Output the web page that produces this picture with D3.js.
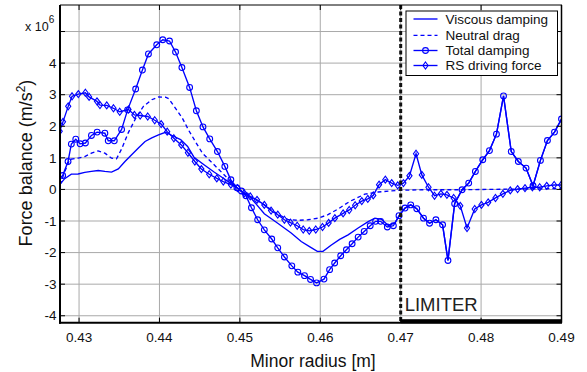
<!DOCTYPE html>
<html>
<head>
<meta charset="utf-8">
<script src="https://cdn.jsdelivr.net/npm/d3@7"></script>
<style>
  html, body { margin: 0; padding: 0; background: #fff; }
  text { font-family: "Liberation Sans", Arial, sans-serif; }
</style>
</head>
<body>
<div id="chart"></div>
<script>

// Minor radius [m] and force values (x 10^6 m/s^2).
const rTotal = [0.42725, 0.42796, 0.42863, 0.42904, 0.42959, 0.43013, 0.43079, 0.43154, 0.43225, 0.43321, 0.43363,
    0.43438, 0.43529, 0.43604, 0.43704, 0.43788, 0.43863, 0.43966, 0.44041, 0.44125, 0.44200, 0.44279,
    0.44375, 0.44459, 0.44541, 0.44625, 0.44721, 0.44813, 0.44888, 0.44963, 0.45019, 0.45075, 0.45144,
    0.45221, 0.45304, 0.45396, 0.45471, 0.45554, 0.45646, 0.45721, 0.45804, 0.45879, 0.45954, 0.46046,
    0.46116, 0.46179, 0.46254, 0.46325, 0.46396, 0.46471, 0.46546, 0.46621, 0.46688, 0.46750, 0.46834,
    0.46909, 0.46979, 0.47054, 0.47125, 0.47200, 0.47284, 0.47359, 0.47438, 0.47521, 0.47588, 0.47671,
    0.47763, 0.47846, 0.47929, 0.48021, 0.48104, 0.48191, 0.48279, 0.48375, 0.48463, 0.48559, 0.48646,
    0.48738, 0.48825, 0.48913, 0.49000, 0.49088];
const totalDamping = [0.25, 0.44, 0.885, 1.435, 1.59, 1.445, 1.47, 1.71, 1.815, 1.78, 1.54,
    1.54, 1.90, 2.52, 3.18, 3.78, 4.29, 4.58, 4.74, 4.70, 4.35, 3.86,
    3.23, 2.49, 1.98, 1.60, 1.20, 0.73, 0.305, 0.05, -0.05, -0.2, -0.58,
    -0.96, -1.28, -1.57, -1.85, -2.14, -2.42, -2.62, -2.73, -2.85, -2.96, -2.84,
    -2.54, -2.33, -2.10, -1.91, -1.72, -1.51, -1.33, -1.15, -1.01, -1.01, -1.19,
    -1.15, -0.83, -0.59, -0.49, -0.61, -0.91, -1.07, -0.96, -1.12, -2.25, -0.45,
    -0.01, 0.2, 0.57, 0.94, 1.23, 1.75, 2.96, 1.20, 0.885, 0.675, 0.115,
    0.92, 1.55, 1.815, 2.23, 2.65];

const rRS = [0.42759, 0.42800, 0.42865, 0.42913, 0.42991, 0.43079, 0.43125, 0.43223, 0.43260, 0.43344, 0.43428,
    0.43506, 0.43615, 0.43688, 0.43760, 0.43854, 0.43941, 0.44021, 0.44096, 0.44179, 0.44271, 0.44354,
    0.44440, 0.44521, 0.44619, 0.44713, 0.44794, 0.44888, 0.44971, 0.45054, 0.45129, 0.45213, 0.45304,
    0.45388, 0.45471, 0.45554, 0.45629, 0.45713, 0.45788, 0.45863, 0.45944, 0.46028, 0.46104, 0.46181,
    0.46284, 0.46360, 0.46434, 0.46516, 0.46591, 0.46659, 0.46731, 0.46809, 0.46888, 0.46963, 0.47034,
    0.47109, 0.47191, 0.47263, 0.47346, 0.47421, 0.47500, 0.47575, 0.47659, 0.47741, 0.47825, 0.47921,
    0.48004, 0.48088, 0.48179, 0.48271, 0.48363, 0.48454, 0.48546, 0.48638, 0.48729, 0.48816, 0.48909,
    0.48996];
const rsForce = [1.84, 2.14, 2.63, 2.95, 3.02, 3.06, 2.93, 2.79, 2.67, 2.66, 2.57,
    2.46, 2.53, 2.36, 2.34, 2.31, 2.19, 2.07, 1.83, 1.62, 1.41, 1.16,
    0.885, 0.645, 0.48, 0.35, 0.25, 0.15, 0.04, -0.12, -0.22, -0.33, -0.49,
    -0.67, -0.80, -0.96, -1.05, -1.15, -1.27, -1.31, -1.27, -1.19, -1.06, -0.91,
    -0.76, -0.65, -0.50, -0.37, -0.30, -0.19, 0.15, 0.31, 0.2, 0.13, 0.2,
    0.43, 1.13, 0.46, 0.07, -0.2, -0.14, -0.17, -0.27, -0.52, -1.22, -0.62,
    -0.49, -0.41, -0.27, -0.14, -0.03, 0.01, 0.04, 0.07, 0.07, 0.115, 0.14,
    0.14];

const rViscous = [0.42713, 0.42738, 0.42821, 0.42904, 0.42988, 0.43071, 0.43154, 0.43238, 0.43321, 0.43404, 0.43488,
    0.43571, 0.43654, 0.43738, 0.43821, 0.43904, 0.43988, 0.44075, 0.44163, 0.44263, 0.44350, 0.44429,
    0.44554, 0.44679, 0.44804, 0.44929, 0.45013, 0.45138, 0.45304, 0.45471, 0.45638, 0.45763, 0.45866,
    0.45963, 0.46034, 0.46138, 0.46241, 0.46346, 0.46471, 0.46596, 0.46679, 0.46763, 0.46846, 0.46929,
    0.46991, 0.47054, 0.47125, 0.47200, 0.47284, 0.47359, 0.47438, 0.47521, 0.47588, 0.47671, 0.47763,
    0.47846, 0.47929, 0.48021, 0.48104, 0.48191, 0.48279, 0.48375, 0.48463, 0.48559, 0.48646, 0.48738,
    0.48825, 0.48913, 0.49000, 0.49088];
const viscousDamping = [0.0, 0.08, 0.34, 0.485, 0.49, 0.54, 0.57, 0.60, 0.57, 0.55, 0.65,
    0.885, 1.10, 1.31, 1.52, 1.63, 1.73, 1.81, 1.70, 1.58, 1.36, 1.02,
    0.78, 0.55, 0.34, 0.12, -0.05, -0.27, -0.77, -1.07, -1.38, -1.65, -1.81,
    -1.96, -1.96, -1.76, -1.58, -1.44, -1.22, -1.02, -0.91, -0.95, -1.14, -1.06,
    -0.80, -0.59, -0.49, -0.61, -0.91, -1.07, -0.96, -1.12, -2.25, -0.45, -0.01,
    0.2, 0.57, 0.94, 1.23, 1.75, 2.96, 1.20, 0.885, 0.675, 0.115, 0.92,
    1.55, 1.815, 2.23, 2.65];

const rNeutral = [0.42763, 0.42821, 0.42884, 0.42988, 0.43071, 0.43154, 0.43238, 0.43321, 0.43404, 0.43466, 0.43529,
    0.43613, 0.43716, 0.43800, 0.43904, 0.43988, 0.44075, 0.44116, 0.44200, 0.44284, 0.44366, 0.44450,
    0.44534, 0.44638, 0.44721, 0.44825, 0.44929, 0.45013, 0.45138, 0.45304, 0.45471, 0.45596, 0.45721,
    0.45846, 0.45971, 0.46096, 0.46221, 0.46366, 0.46554, 0.46721, 0.46971, 0.47263, 0.47763, 0.49038];
const neutralDrag = [0.15, 0.55, 0.95, 0.99, 1.04, 1.15, 1.22, 1.15, 0.99, 0.97, 1.28,
    1.80, 2.31, 2.63, 2.84, 2.93, 2.92, 2.87, 2.57, 2.26, 1.86, 1.50,
    1.15, 0.885, 0.675, 0.41, 0.15, -0.05, -0.25, -0.49, -0.78, -0.95, -0.98,
    -0.96, -0.91, -0.80, -0.62, -0.38, -0.15, -0.08, -0.03, -0.01, -0.01, 0.03];

const xTicks = [0.43, 0.44, 0.45, 0.46, 0.47, 0.48, 0.49];
const yTicks = [-4, -3, -2, -1, 0, 1, 2, 3, 4, 5];
const yTickLabels = ["-4", "-3", "-2", "-1", "0", "1", "2", "3", "4", ""];
const limiterR = 0.47;
const legendNames = ["Viscous damping", "Neutral drag", "Total damping", "RS driving force"];

function createForceChart(width, height) {
    const plotLeft = 60, plotRight = 561.5, plotTop = 5, plotBottom = 322.7;
    const blue = "#0000ff";
    const lineWidth = 1.35;

    const x = d3.scaleLinear().domain([0.42763, 0.49]).range([plotLeft, plotRight]);
    const y = d3.scaleLinear().domain([-4.22, 5.84]).range([plotBottom, plotTop]);

    const svg = d3.create("svg")
        .attr("width", width)
        .attr("height", height)
        .attr("viewBox", [0, 0, width, height]);

    svg.append("defs").append("clipPath")
        .attr("id", "plot-clip")
        .append("rect")
        .attr("x", plotLeft)
        .attr("y", plotTop)
        .attr("width", plotRight - plotLeft)
        .attr("height", plotBottom - plotTop);

    // Grid lines.
    const grid = svg.append("g").attr("stroke", "#a9a9a9").attr("stroke-width", 1);
    grid.selectAll(".gx").data(xTicks).join("line")
        .attr("x1", d => x(d)).attr("x2", d => x(d))
        .attr("y1", plotTop).attr("y2", plotBottom);
    grid.selectAll(".gy").data(yTicks).join("line")
        .attr("x1", plotLeft).attr("x2", plotRight)
        .attr("y1", d => y(d)).attr("y2", d => y(d));

    const line = d3.line().x(d => x(d[0])).y(d => y(d[1]));
    const zip = (rs, vs) => rs.map((r, i) => [r, vs[i]]);

    const viscous = zip(rViscous, viscousDamping);
    const neutral = zip(rNeutral, neutralDrag);
    const total = zip(rTotal, totalDamping);
    const rs = zip(rRS, rsForce);

    const plot = svg.append("g").attr("clip-path", "url(#plot-clip)");

    plot.append("path").datum(viscous)
        .attr("d", line).attr("fill", "none").attr("stroke", blue).attr("stroke-width", lineWidth);
    plot.append("path").datum(neutral)
        .attr("d", line).attr("fill", "none").attr("stroke", blue).attr("stroke-width", lineWidth)
        .attr("stroke-dasharray", "4,3");
    plot.append("path").datum(total)
        .attr("d", line).attr("fill", "none").attr("stroke", blue).attr("stroke-width", lineWidth);
    plot.append("path").datum(rs)
        .attr("d", line).attr("fill", "none").attr("stroke", blue).attr("stroke-width", lineWidth);

    // Markers: open circles for total damping, open diamonds for RS force.
    plot.selectAll(".circ").data(total).join("circle")
        .attr("cx", d => x(d[0])).attr("cy", d => y(d[1])).attr("r", 2.9)
        .attr("fill", "none").attr("stroke", blue).attr("stroke-width", 1.1);
    const diamond = (cx, cy) => `M${cx},${cy - 3.5}L${cx + 2.6},${cy}L${cx},${cy + 3.5}L${cx - 2.6},${cy}Z`;
    plot.selectAll(".diam").data(rs).join("path")
        .attr("d", d => diamond(x(d[0]), y(d[1])))
        .attr("fill", "none").attr("stroke", blue).attr("stroke-width", 1.1);

    // Limiter position.
    svg.append("line")
        .attr("x1", x(limiterR)).attr("x2", x(limiterR))
        .attr("y1", plotTop).attr("y2", plotBottom)
        .attr("stroke", "#111").attr("stroke-width", 3)
        .attr("stroke-dasharray", "4,2.5");
    svg.append("rect")
        .attr("x", x(limiterR)).attr("y", plotBottom - 3.5)
        .attr("width", plotRight - x(limiterR)).attr("height", 4)
        .attr("fill", "#000");
    svg.append("text")
        .attr("x", x(limiterR) + 4).attr("y", 311)
        .attr("font-size", 18.5).attr("fill", "#222")
        .text("LIMITER");

    // Axes box and inward ticks.
    const box = svg.append("g").attr("stroke", "#000").attr("fill", "none");
    box.append("line").attr("x1", plotLeft).attr("x2", plotRight + 0.5)
        .attr("y1", plotTop).attr("y2", plotTop).attr("stroke-width", 1);
    box.append("line").attr("x1", plotRight).attr("x2", plotRight)
        .attr("y1", plotTop).attr("y2", plotBottom).attr("stroke-width", 1.5);
    box.append("line").attr("x1", plotLeft).attr("x2", plotLeft)
        .attr("y1", plotTop).attr("y2", plotBottom + 1).attr("stroke-width", 2);
    box.append("line").attr("x1", plotLeft - 1).attr("x2", plotRight + 0.5)
        .attr("y1", plotBottom).attr("y2", plotBottom).attr("stroke-width", 2);

    const tickLen = 5;
    box.selectAll(".tx").data(xTicks).join("path")
        .attr("stroke-width", 1)
        .attr("d", d => `M${x(d)},${plotBottom}v${-tickLen}M${x(d)},${plotTop}v${tickLen}`);
    box.selectAll(".ty").data(yTicks).join("path")
        .attr("stroke-width", 1)
        .attr("d", d => `M${plotLeft},${y(d)}h${tickLen}M${plotRight},${y(d)}h${-tickLen}`);

    // Tick labels.
    svg.append("g").selectAll("text").data(xTicks).join("text")
        .attr("x", d => x(d)).attr("y", 341.5)
        .attr("text-anchor", "middle").attr("font-size", 13.5).attr("fill", "#111")
        .text(d => d.toFixed(2));
    svg.append("g").selectAll("text").data(yTicks).join("text")
        .attr("x", 56.5).attr("y", d => y(d) + 4.7)
        .attr("text-anchor", "end").attr("font-size", 13.5).attr("fill", "#111")
        .text((d, i) => yTickLabels[i]);

    // Exponent label.
    const expo = svg.append("text").attr("x", 25).attr("y", 30.5).attr("font-size", 12.5).attr("fill", "#111");
    expo.append("tspan").text("x 10");
    expo.append("tspan").attr("dy", -8).attr("font-size", 10).text("6");

    // Axis titles.
    const yTitle = svg.append("text")
        .attr("transform", "translate(32,163) rotate(-90)")
        .attr("text-anchor", "middle").attr("font-size", 18).attr("fill", "#111");
    yTitle.append("tspan").text("Force balance (m/s");
    yTitle.append("tspan").attr("dy", -7).attr("font-size", 12).text("2");
    yTitle.append("tspan").attr("dy", 7).text(")");

    svg.append("text")
        .attr("x", 313).attr("y", 366.5)
        .attr("text-anchor", "middle").attr("font-size", 17.5).attr("fill", "#111")
        .text("Minor radius [m]");

    // Legend.
    const legend = svg.append("g");
    legend.append("rect")
        .attr("x", 406).attr("y", 11).attr("width", 151.5).attr("height", 64.5)
        .attr("fill", "#fff").attr("stroke", "#000").attr("stroke-width", 1);
    const rowY = [19, 35.3, 50.5, 65.5];
    legendNames.forEach((name, i) => {
        const g = legend.append("g");
        const ly = rowY[i];
        g.append("line")
            .attr("x1", 413.5).attr("x2", 437.5).attr("y1", ly).attr("y2", ly)
            .attr("stroke", blue).attr("stroke-width", lineWidth)
            .attr("stroke-dasharray", i === 1 ? "4,3" : null);
        if (i === 2) {
            g.append("circle").attr("cx", 425.5).attr("cy", ly).attr("r", 2.9)
                .attr("fill", "none").attr("stroke", blue).attr("stroke-width", 1.1);
        }
        if (i === 3) {
            g.append("path").attr("d", diamond(425.5, ly))
                .attr("fill", "none").attr("stroke", blue).attr("stroke-width", 1.1);
        }
        g.append("text")
            .attr("x", 445.5).attr("y", ly + 4.6)
            .attr("font-size", 13.5).attr("fill", "#111")
            .text(name);
    });

    return svg.node();
}

document.getElementById("chart").appendChild(createForceChart(587, 372));
</script>
</body>
</html>
